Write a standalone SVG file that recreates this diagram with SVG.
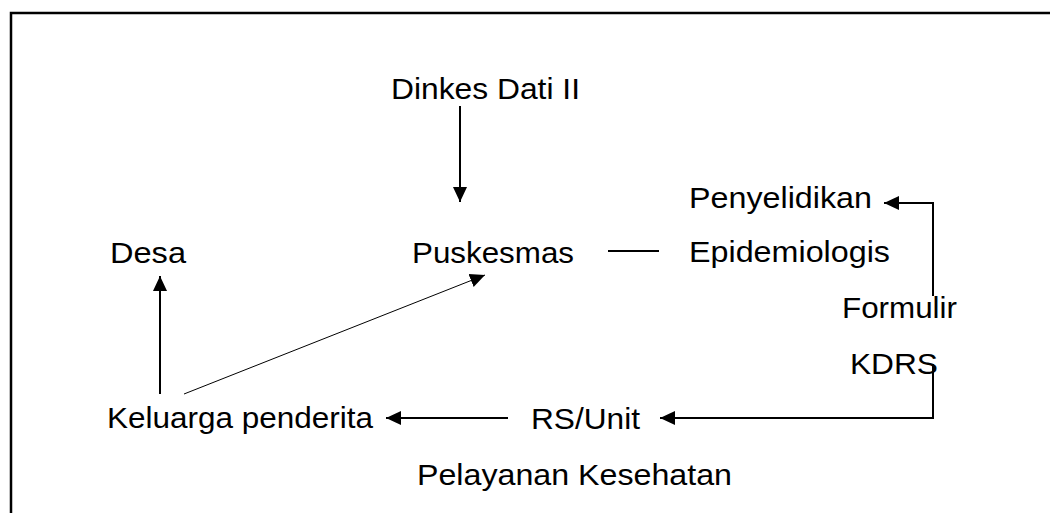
<svg xmlns="http://www.w3.org/2000/svg" width="1050" height="513" viewBox="0 0 1050 513">
<style>
text{font-family:"Liberation Sans",Arial,sans-serif;font-size:30px;fill:#000}
.c{stroke:#000;stroke-width:2;fill:none}
.t{stroke:#000;stroke-width:1;fill:none}
</style>
<defs>
<marker id="ah" markerUnits="userSpaceOnUse" markerWidth="16" markerHeight="16" viewBox="0 0 16 16" refX="15" refY="8" orient="auto">
<path d="M0,1 L15,8 L0,15 Z" fill="#000"/>
</marker>
</defs>
<rect width="1050" height="513" fill="#fff"/>
<path d="M11,513 V13 H1050" stroke="#000" stroke-width="2.5" fill="none"/>
<g id="connectors">
<line class="c" x1="460" y1="106" x2="460" y2="202" marker-end="url(#ah)"/>
<line class="c" x1="608" y1="251" x2="659" y2="251" stroke-width="1.5"/>
<path class="c" d="M933,296 V203 H884" marker-end="url(#ah)"/>
<path class="c" d="M933,364 V418 H660" marker-end="url(#ah)"/>
<line class="c" x1="508" y1="418" x2="386" y2="418" marker-end="url(#ah)"/>
<line class="c" x1="160" y1="394" x2="160" y2="276" marker-end="url(#ah)"/>
<line class="t" x1="184" y1="394" x2="485" y2="275" marker-end="url(#ah)"/>
</g>
<g id="dinkes"><text x="391" y="99" textLength="189" lengthAdjust="spacingAndGlyphs">Dinkes Dati II</text></g>
<g id="puskesmas"><text x="412" y="263" textLength="162" lengthAdjust="spacingAndGlyphs">Puskesmas</text></g>
<g id="desa"><text x="110" y="263" textLength="76" lengthAdjust="spacingAndGlyphs">Desa</text></g>
<g id="penyelidikan"><text x="689" y="208" textLength="183" lengthAdjust="spacingAndGlyphs">Penyelidikan</text><text x="689" y="262" textLength="201" lengthAdjust="spacingAndGlyphs">Epidemiologis</text></g>
<g id="formulir"><text x="842" y="318" textLength="115" lengthAdjust="spacingAndGlyphs">Formulir</text><text x="850" y="374" textLength="88" lengthAdjust="spacingAndGlyphs">KDRS</text></g>
<g id="keluarga"><text x="107" y="428" textLength="266" lengthAdjust="spacingAndGlyphs">Keluarga penderita</text></g>
<g id="rs"><text x="531" y="429" textLength="109" lengthAdjust="spacingAndGlyphs">RS/Unit</text><text x="417" y="485" textLength="315" lengthAdjust="spacingAndGlyphs">Pelayanan Kesehatan</text></g>
</svg>
